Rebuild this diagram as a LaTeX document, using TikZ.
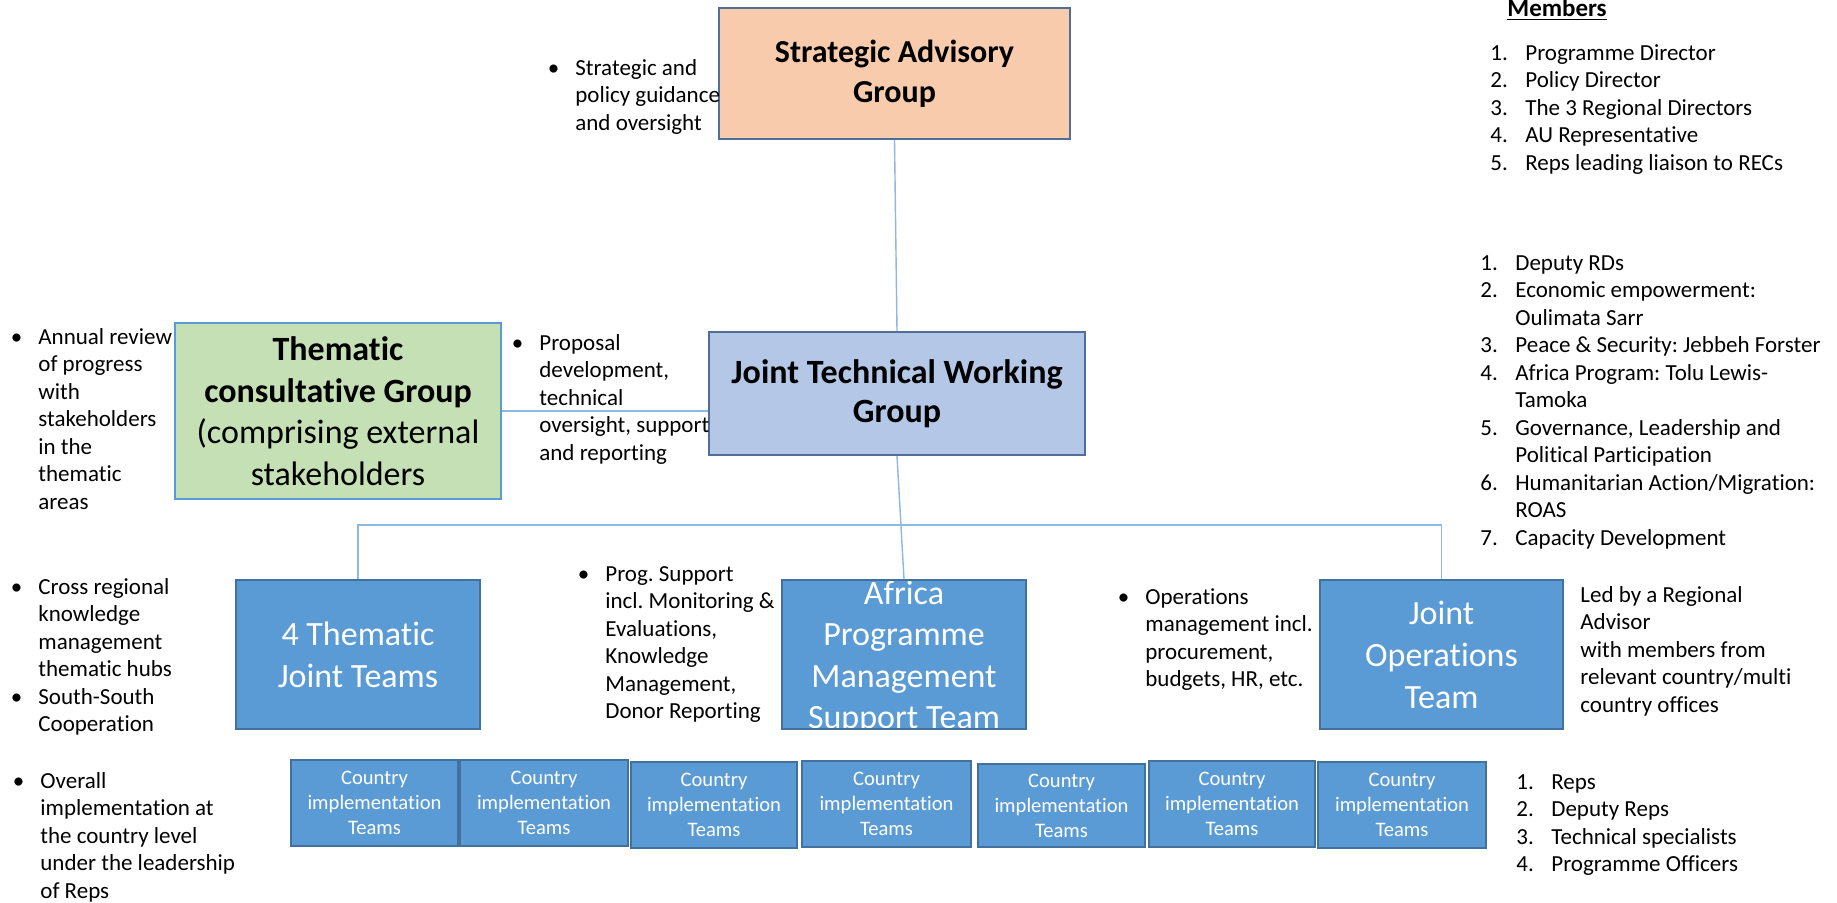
\documentclass[tikz,border=0pt]{standalone}
\usepackage{fontspec}
\setmainfont{Carlito}[Ligatures=NoCommon]
\frenchspacing
\definecolor{peach}{HTML}{F8CBAD}
\definecolor{lblue}{HTML}{B4C7E7}
\definecolor{lgreen}{HTML}{C5E0B4}
\definecolor{mblue}{HTML}{5B9BD5}
\definecolor{dblue}{HTML}{41719C}
\definecolor{sblue}{HTML}{4F6F98}
\definecolor{linec}{HTML}{8DB8E2}
\newcommand\bl{\llap{•\hspace{8pt}}}
\newcommand\lnum[1]{\makebox[17.5pt][l]{#1}}
\tikzset{
 box/.style={draw=dblue, line width=1pt, inner sep=0pt, align=center},
 txt/.style={inner sep=0pt, anchor=base west, font=\fontsize{11.5}{13.75}\selectfont},
 conn/.style={draw=linec, line width=0.7pt},
 bigw/.style={box, fill=mblue, text=white, font=\fontsize{17}{21}\selectfont, minimum width=122pt, minimum height=74.5pt},
 ctry/.style={box, fill=mblue, text=white, font=\fontsize{10.3}{12.5}\selectfont, minimum height=43pt}
}
\begin{document}
\begin{tikzpicture}[x=0.5pt,y=-0.5pt]
\fill[white] (0,0) rectangle (1837,902);
\useasboundingbox (0,0) rectangle (1837,902);

% main boxes
\node[box, draw=sblue, fill=peach, minimum width=175.5pt, minimum height=65.5pt, font=\fontsize{16}{20}\selectfont\bfseries] (sag) at (894.5,73.5) {Strategic Advisory\\Group};
\node[box, draw=sblue, fill=lblue, minimum width=188pt, minimum height=61.5pt, font=\fontsize{17}{19.5}\selectfont\bfseries] (jtwg) at (897,393.5) {Joint Technical Working\\Group};
\node[box, draw=mblue, fill=lgreen, minimum width=163pt, minimum height=88pt, font=\fontsize{17}{20.8}\selectfont] (tcg) at (338,411) {\textbf{Thematic}\\\textbf{consultative Group}\\(comprising external\\stakeholders};

\node[bigw] (tjt) at (358,654.5) {4 Thematic\\Joint Teams};
\node[bigw, path picture={\node[text=white, inner sep=0pt, align=center, font=\fontsize{17}{20.8}\selectfont] at ([yshift=-1.5pt]path picture bounding box.center) {Africa\\Programme\\Management\\Support Team};}] (apmst) at (904,654.5) {};
\node[bigw, minimum width=121.5pt] (jot) at (1441.5,654.5) {Joint\\Operations\\Team};

% country boxes
\node[ctry, minimum width=83.5pt] (c1) at (374.5,803) {Country\\implementation\\Teams};
\node[ctry, minimum width=84pt] (c2) at (544,802.5) {Country\\implementation\\Teams};
\node[ctry, minimum width=83pt] (c3) at (714,804.5) {Country\\implementation\\Teams};
\node[ctry, minimum width=84.5pt] (c4) at (886.5,803.5) {Country\\implementation\\Teams};
\node[ctry, minimum width=83.5pt, minimum height=41.5pt] (c5) at (1061.5,805.5) {Country\\implementation\\Teams};
\node[ctry, minimum width=83pt] (c6) at (1232,804) {Country\\implementation\\Teams};
\node[ctry, minimum width=84pt] (c7) at (1402,804.5) {Country\\implementation\\Teams};

% connectors
\draw[conn] (sag.south) -- (jtwg.north);
\draw[conn] (tcg.east) -- (tcg.east -| jtwg.west);
\draw[conn] (tjt.north) -- ++(0,-54) -| (jot.north);
\draw[conn] (jtwg.south) -- (apmst.north);

% notes
\node[txt] (sagnote) at (575,75) {\begin{tabular}[t]{@{}l@{}}\bl Strategic and\\policy guidance\\and oversight\end{tabular}};

\node[inner sep=0pt, anchor=base west, font=\fontsize{12.5}{15}\selectfont\bfseries] (memhead) at (1507,16.5) {\underline{Members}};
\node[txt] (memlist) at (1490,60) {\begin{tabular}[t]{@{}l@{}l@{}}\lnum{1.}&Programme Director\\\lnum{2.}&Policy Director\\\lnum{3.}&The 3 Regional Directors\\\lnum{4.}&AU Representative\\\lnum{5.}&Reps leading liaison to RECs\end{tabular}};

\node[txt] (jtwglist) at (1480,270) {\begin{tabular}[t]{@{}l@{}l@{}}\lnum{1.}&Deputy RDs\\\lnum{2.}&Economic empowerment:\\&Oulimata Sarr\\\lnum{3.}&Peace \& Security: Jebbeh Forster\\\lnum{4.}&Africa Program: Tolu Lewis-\\&Tamoka\\\lnum{5.}&Governance, Leadership and\\&Political Participation\\\lnum{6.}&Humanitarian Action/Migration:\\&ROAS\\\lnum{7.}&Capacity Development\end{tabular}};

\node[txt] (tcgnote) at (38,344) {\begin{tabular}[t]{@{}l@{}}\bl Annual review\\of progress\\with\\stakeholders\\in the\\thematic\\areas\end{tabular}};

\node[txt] (jtwgnote) at (539,350) {\begin{tabular}[t]{@{}l@{}}\bl Proposal\\development,\\technical\\oversight, support\\and reporting\end{tabular}};

\node[txt] (tjtnote) at (38,594) {\begin{tabular}[t]{@{}l@{}}\bl Cross regional\\knowledge\\management\\thematic hubs\\\bl South-South\\Cooperation\end{tabular}};

\node[txt] (apmstnote) at (605,581) {\begin{tabular}[t]{@{}l@{}}\bl Prog. Support\\incl. Monitoring \&\\Evaluations,\\Knowledge\\Management,\\Donor Reporting\end{tabular}};

\node[txt] (opsnote) at (1145,604) {\begin{tabular}[t]{@{}l@{}}\bl Operations\\management incl.\\procurement,\\budgets, HR, etc.\end{tabular}};

\node[txt] (jotnote) at (1580,602) {\begin{tabular}[t]{@{}l@{}}Led by a Regional\\Advisor\\with members from\\relevant country/multi\\country offices\end{tabular}};

\node[txt] (ctrynote) at (40,788) {\begin{tabular}[t]{@{}l@{}}\bl Overall\\implementation at\\the country level\\under the leadership\\of Reps\end{tabular}};

\node[txt] (ctrylist) at (1516,789) {\begin{tabular}[t]{@{}l@{}l@{}}\lnum{1.}&Reps\\\lnum{2.}&Deputy Reps\\\lnum{3.}&Technical specialists\\\lnum{4.}&Programme Officers\end{tabular}};
\end{tikzpicture}
\end{document}
